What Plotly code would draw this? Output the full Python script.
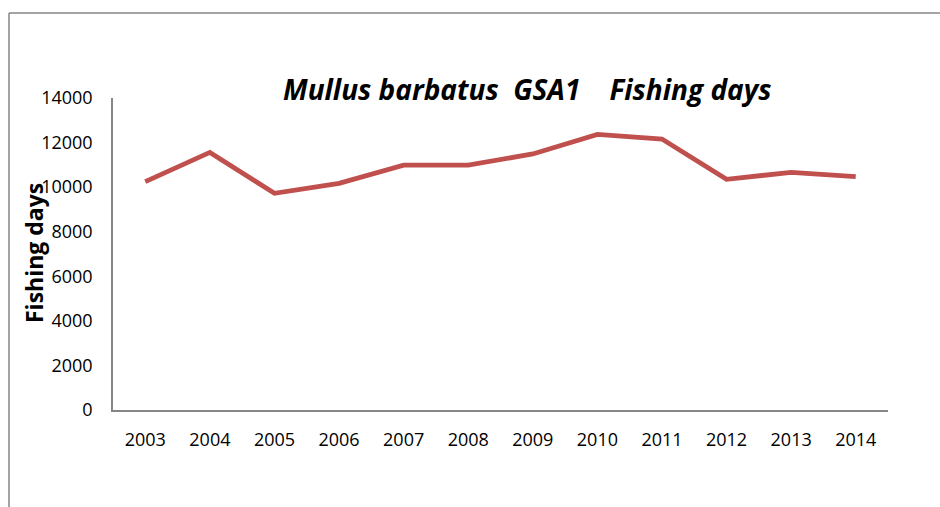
import plotly.graph_objects as go

years = ["2003", "2004", "2005", "2006", "2007", "2008", "2009", "2010", "2011", "2012", "2013", "2014"]
fishing_days = [10245, 11560, 9725, 10170, 10990, 10990, 11490, 12370, 12160, 10350, 10665, 10470]
y_ticks = [0, 2000, 4000, 6000, 8000, 10000, 12000, 14000]

W, H = 940, 507
L, R, T, B = 113, 52, 98, 97
pw, ph = W - L - R, H - T - B

def px_x(x):
    return (x - L) / pw

def px_y(y):
    return (H - B - y) / ph

fig = go.Figure()
fig.add_trace(go.Scatter(
    x=years, y=fishing_days, mode="lines",
    line=dict(color="#C0504D", width=4.8),
    hoverinfo="x+y", showlegend=False,
))

font_family = "'Open Sans', Lato, sans-serif"
nb = "\u00a0"
title_text = "<b><i>Mullus barbatus" + nb * 2 + "GSA1" + nb * 4 + "Fishing days</i></b>"
fig.update_layout(
    width=W, height=H,
    margin=dict(l=L, r=R, t=T, b=B),
    paper_bgcolor="white", plot_bgcolor="white",
    font=dict(family=font_family, size=18, color="black"),
    xaxis=dict(
        type="category", range=[-0.5, 11.5],
        showline=True, linecolor="#868686", linewidth=1.5,
        showgrid=False, zeroline=False, ticks="",
        ticklabelstandoff=13, tickfont=dict(size=18),
    ),
    yaxis=dict(
        range=[0, 14000], tickvals=y_ticks, tickformat="d",
        showline=True, linecolor="#868686", linewidth=1.5,
        showgrid=False, zeroline=False, ticks="",
        ticklabelstandoff=15, tickfont=dict(size=18),
    ),
    annotations=[
        dict(text=title_text,
             xref="paper", yref="paper", x=px_x(527), y=px_y(89),
             xanchor="center", yanchor="middle", showarrow=False,
             font=dict(size=28, family=font_family)),
        dict(text="<b>Fishing days</b>",
             xref="paper", yref="paper", x=px_x(34), y=px_y(253),
             xanchor="center", yanchor="middle", showarrow=False,
             textangle=-90, font=dict(size=23, family=font_family)),
    ],
    shapes=[
        dict(type="line", xref="paper", yref="paper",
             x0=px_x(9), x1=px_x(940), y0=px_y(13), y1=px_y(13),
             line=dict(color="#868686", width=1.5)),
        dict(type="line", xref="paper", yref="paper",
             x0=px_x(9), x1=px_x(9), y0=px_y(13), y1=px_y(507),
             line=dict(color="#868686", width=1.5)),
    ],
)

fig.write_html("out.html")
